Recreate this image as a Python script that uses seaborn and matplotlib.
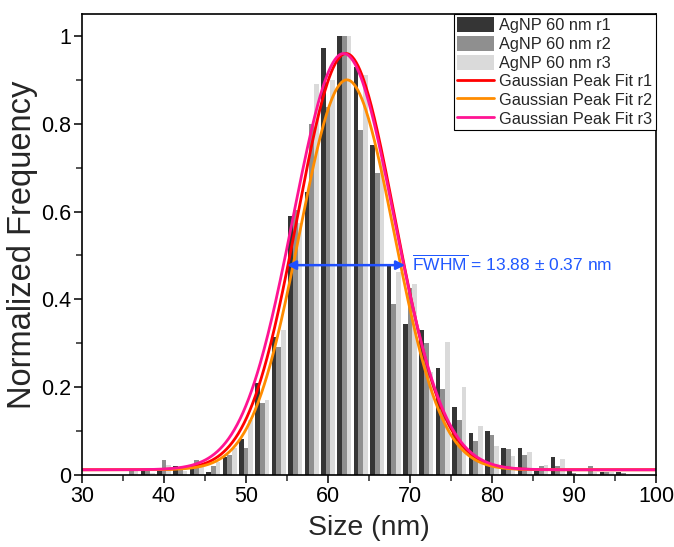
import numpy as np
import pandas as pd
import matplotlib
matplotlib.use("Agg")
import matplotlib.pyplot as plt
import seaborn as sns
from matplotlib.patches import Patch
from matplotlib.lines import Line2D
from matplotlib.ticker import MultipleLocator

# histogram bin centres (nm) and normalized counts for the three runs
sizes = list(range(36, 98, 2))
r1 = [0.0, 0.011, 0.013, 0.021, 0.015, 0.008, 0.042, 0.081, 0.210, 0.315,
      0.591, 0.645, 0.973, 1.0, 0.930, 0.752, 0.480, 0.344, 0.330, 0.243,
      0.156, 0.095, 0.101, 0.061, 0.061, 0.015, 0.041, 0.011, 0.0, 0.008, 0.008]
r2 = [0.010, 0.010, 0.034, 0.015, 0.034, 0.020, 0.046, 0.061, 0.165, 0.292,
      0.604, 0.800, 0.838, 1.0, 0.786, 0.689, 0.390, 0.427, 0.300, 0.195,
      0.125, 0.078, 0.091, 0.059, 0.046, 0.020, 0.020, 0.005, 0.020, 0.008, 0.005]
r3 = [0.010, 0.005, 0.023, 0.010, 0.020, 0.030, 0.061, 0.125, 0.171, 0.330,
      0.575, 0.890, 0.900, 1.0, 0.911, 0.720, 0.463, 0.434, 0.235, 0.302,
      0.200, 0.112, 0.067, 0.043, 0.052, 0.023, 0.037, 0.003, 0.008, 0.008, 0.0]
runs = ["AgNP 60 nm r1", "AgNP 60 nm r2", "AgNP 60 nm r3"]
bar_colors = ["#353535", "#8f8f8f", "#dadada"]

# gaussian peak fit parameters
fit_labels = ["Gaussian Peak Fit r1", "Gaussian Peak Fit r2", "Gaussian Peak Fit r3"]
fit_colors = ["#ff0000", "#ff8c00", "#ff1493"]
fit_center = [62.2, 62.3, 61.9]
fit_fwhm = [14.0, 13.6, 14.5]
fit_amp = [0.948, 0.888, 0.948]
fit_base = [0.012, 0.012, 0.012]

fwhm_text = r"$\overline{\mathrm{FWHM}}$ = 13.88 $\pm$ 0.37 nm"

sns.set_style("ticks")
plt.rcParams["font.family"] = ["Liberation Sans", "DejaVu Sans"]
plt.rcParams["mathtext.fontset"] = "custom"
plt.rcParams["mathtext.rm"] = "Liberation Sans"
plt.rcParams["mathtext.it"] = "Liberation Sans:italic"
plt.rcParams["mathtext.bf"] = "Liberation Sans:bold"

fig = plt.figure(figsize=(6.74, 5.47), dpi=100)
ax = fig.add_axes([0.1217, 0.1316, 0.8516, 0.8428])

df = pd.DataFrame({
    "size": sizes * 3,
    "freq": r1 + r2 + r3,
    "run": np.repeat(runs, len(sizes)),
})
sns.barplot(data=df, x="size", y="freq", hue="run", hue_order=runs,
            palette=bar_colors, native_scale=True, width=0.85, gap=0,
            errorbar=None, saturation=1, linewidth=0, legend=False, ax=ax)

xs = np.linspace(30, 100, 600)
for c, w, a, b, col in zip(fit_center, fit_fwhm, fit_amp, fit_base, fit_colors):
    ys = b + a * np.exp(-4 * np.log(2) * (xs - c) ** 2 / w ** 2)
    sns.lineplot(x=xs, y=ys, color=col, lw=2, ax=ax)

# FWHM arrow + label
ax.annotate("", xy=(55.0, 0.478), xytext=(69.4, 0.478),
            arrowprops=dict(arrowstyle="<|-|>", color="#1f4fff", lw=1.8,
                            mutation_scale=13, shrinkA=0, shrinkB=0))
ax.text(70.3, 0.48, fwhm_text, color="#2058ff", fontsize=12.5,
        va="center", ha="left")

ax.set_xlim(30, 100)
ax.set_ylim(0, 1.05)
ax.xaxis.set_major_locator(MultipleLocator(10))
ax.xaxis.set_minor_locator(MultipleLocator(5))
ax.yaxis.set_major_locator(MultipleLocator(0.2))
ax.yaxis.set_minor_locator(MultipleLocator(0.1))
ax.set_yticks([0, 0.2, 0.4, 0.6, 0.8, 1.0])
ax.set_yticklabels(["0", "0.2", "0.4", "0.6", "0.8", "1"])
ax.tick_params(which="major", direction="out", length=6, width=1.1,
               labelsize=15.5, pad=2, colors="black")
ax.tick_params(which="minor", direction="out", length=4, width=1.1)
for s in ax.spines.values():
    s.set_linewidth(1.2)
    s.set_color("black")

ax.set_xlabel("Size (nm)", fontsize=20.5, labelpad=6)
ax.set_ylabel("Normalized Frequency", fontsize=23.5, labelpad=2)

handles = [Patch(facecolor=c, edgecolor="none") for c in bar_colors]
handles += [Line2D([], [], color=c, lw=2) for c in fit_colors]
leg = ax.legend(handles, runs + fit_labels, loc="upper right",
                borderaxespad=0, fancybox=False, framealpha=1,
                edgecolor="black", fontsize=11.8, handlelength=2.25,
                handleheight=1.05, labelspacing=0.15, handletextpad=0.35,
                borderpad=0.2)
leg.get_frame().set_linewidth(0.8)

fig.savefig("out.png", dpi=100)
